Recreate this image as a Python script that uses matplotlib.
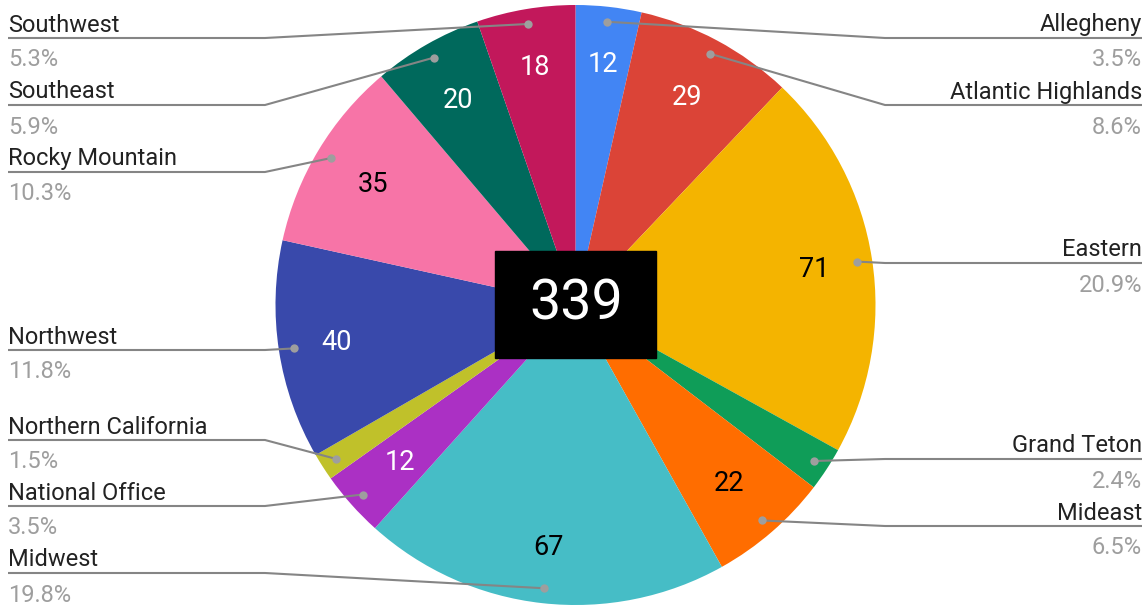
import numpy as np
import matplotlib.pyplot as plt
from matplotlib.patches import Rectangle

plt.rcParams['font.family'] = ['Roboto', 'DejaVu Sans']

regions = ["Allegheny", "Atlantic Highlands", "Eastern", "Grand Teton", "Mideast",
           "Midwest", "National Office", "Northern California", "Northwest",
           "Rocky Mountain", "Southeast", "Southwest"]
members = [12, 29, 71, 8, 22, 67, 12, 5, 40, 35, 20, 18]
colors = ["#4285F4", "#DB4437", "#F4B400", "#0F9D58", "#FF6D00", "#46BDC6",
          "#AB30C4", "#C0C12A", "#3949AB", "#F774A7", "#00695C", "#C2185B"]
# text colour of the value shown inside each slice (None = no label)
inner_text = ["white", "white", "black", None, "black", "black",
              "white", None, "white", "black", "white", "white"]
# y (pixels from top) of each leader line's horizontal part
label_y = [38, 105, 263, 459, 526, 573, 506, 440, 350, 172, 105, 38]

W, H = 1146, 606
total = sum(members)

fig = plt.figure(figsize=(W / 100, H / 100), dpi=100)
ax = fig.add_axes([0, 0, 1, 1])

cx, cy, R = 575.5, H - 305, 300
wedges, _ = ax.pie(members, colors=colors, startangle=90, counterclock=False,
                   center=(cx, cy), radius=R,
                   wedgeprops=dict(linewidth=0))

ax.set_xlim(0, W)
ax.set_ylim(0, H)
ax.set_aspect('equal')
ax.axis('off')

line_col = "#858585"
for i, w in enumerate(wedges):
    ang = np.deg2rad((w.theta1 + w.theta2) / 2)
    # value inside slice, pulled in a little on the diagonals
    if inner_text[i]:
        r = 245 - 10 * abs(np.sin(2 * ang))
        ax.text(cx + r * np.cos(ang), cy + r * np.sin(ang) - 1,
                str(members[i]), color=inner_text[i], fontsize=19.5,
                ha='center', va='center')
    # leader line
    dx, dy = cx + 0.95 * R * np.cos(ang), cy + 0.95 * R * np.sin(ang)
    ly = H - label_y[i]
    if np.cos(ang) > 0:
        xs = [dx, 885, 1142]
        tx, ha = 1142, 'right'
    else:
        xs = [dx, 265, 8]
        tx, ha = 8, 'left'
    ax.plot(xs, [dy, ly, ly], color=line_col, lw=1.5, solid_capstyle='butt')
    ax.plot(dx, dy, 'o', color="#9e9e9e", markersize=6, markeredgewidth=0)
    ax.text(tx, ly + 6.5, regions[i], color="#222222", fontsize=17,
            ha=ha, va='baseline')
    ax.text(tx, ly - 28.5, f"{members[i] / total * 100:.1f}%", color="#9e9e9e",
            fontsize=17, ha=ha, va='baseline')

# total in the middle
ax.add_patch(Rectangle((495, H - 358), 161, 107, color="black", zorder=5))
ax.text(576, H - 304.5, str(total), color="white", fontsize=40,
        ha='center', va='center', zorder=6)

fig.savefig("out.png", dpi=100)
